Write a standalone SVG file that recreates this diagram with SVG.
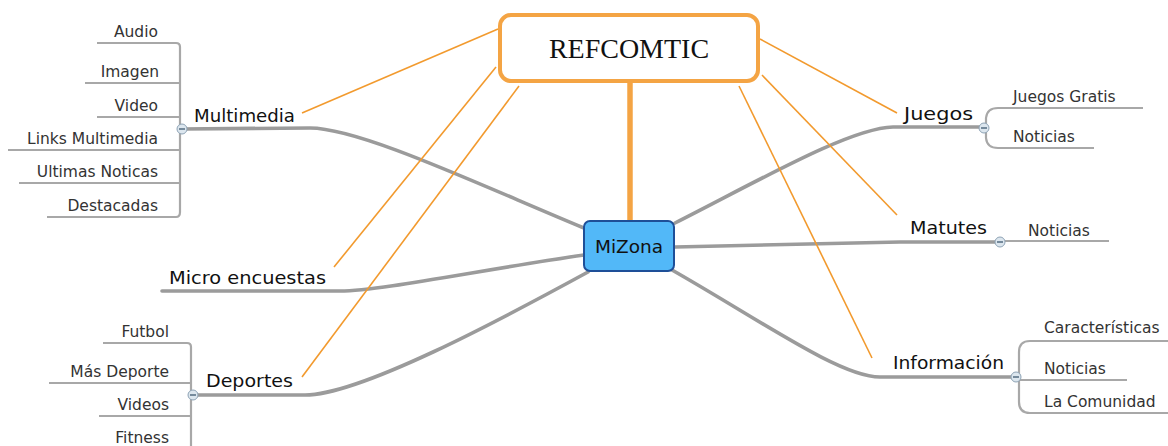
<svg xmlns="http://www.w3.org/2000/svg" width="1168" height="446" viewBox="0 0 1168 446">
<style>
.main{fill:none;stroke:#9b9b9b;stroke-width:3.6;stroke-linecap:round}
.sub{fill:none;stroke:#a8a8a8;stroke-width:2.2}
.rel{fill:none;stroke:#f29a2e;stroke-width:1.6}
.t1{font-family:"DejaVu Sans",sans-serif;font-size:18.5px;fill:#111}
.t2{font-family:"DejaVu Sans",sans-serif;font-size:15.5px;fill:#333}
.end{text-anchor:end}
.col{fill:#dce6ee;stroke:#8ea3b5;stroke-width:1}
.minus{stroke:#3d5870;stroke-width:1.3}
</style>
<rect width="1168" height="446" fill="#ffffff"/>
<g id="connectors">
  <path class="main" d="M584,228 C480,185 360,128 310,128 L182,129"/>
  <path class="main" d="M584,255 C480,270 380,291 340,291 L162,291"/>
  <path class="main" d="M588,272 C500,320 360,395 305,395 L195,395"/>
  <path class="main" d="M675,223 C760,180 850,128 893,127 L984,127"/>
  <path class="main" d="M675,247 L900,242 L1000,242"/>
  <path class="main" d="M672,270 C760,320 840,377 880,377 L1016,377"/>
  <path class="sub" d="M97,43 L176,43 Q180,43 180,47 L180,212 Q180,217 176,217 L47,217"/>
  <path class="sub" d="M85,83 L180,83"/>
  <path class="sub" d="M97,117 L180,117"/>
  <path class="sub" d="M8,150 L180,150"/>
  <path class="sub" d="M19,183 L180,183"/>
  <path class="sub" d="M103,343 L187,343 Q191,343 191,347 L191,446"/>
  <path class="sub" d="M49,383 L191,383"/>
  <path class="sub" d="M99,416 L191,416"/>
  <path class="sub" d="M1143,108 L998,108 Q987,108 986,118 L986,138 Q987,148 998,148 L1094,148"/>
  <path class="sub" d="M1005,241 L1109,241"/>
  <path class="sub" d="M1168,341 L1030,341 Q1019,341 1019,352 L1019,402 Q1019,413 1030,413 L1168,413"/>
  <path class="sub" d="M1019,380 L1127,380"/>
  <path class="rel" d="M498,29 L302,113"/>
  <path class="rel" d="M496,67 L334,267"/>
  <path class="rel" d="M519,86 L302,377"/>
  <path class="rel" d="M760,39 L897,113"/>
  <path class="rel" d="M762,75 L897,215"/>
  <path class="rel" d="M739,86 L872,358"/>
  <path d="M630,82 L630,221" fill="none" stroke="#f4a444" stroke-width="5.5"/>
</g>
<g id="refcomtic">
  <rect x="500" y="15" width="258" height="66" rx="11" fill="#ffffff" stroke="#f4a444" stroke-width="4"/>
  <text x="629" y="58" text-anchor="middle" font-family="'Liberation Serif',serif" font-size="28" fill="#111">REFCOMTIC</text>
</g>
<g id="mizona">
  <rect x="584" y="221" width="90" height="50" rx="6" fill="#52b8f8" stroke="#1e4f98" stroke-width="2"/>
  <text x="629" y="253" text-anchor="middle" font-family="'DejaVu Sans',sans-serif" font-size="18.5" fill="#111">MiZona</text>
</g>
<g id="multimedia">
  <text class="t1" x="194" y="122" textLength="101" lengthAdjust="spacingAndGlyphs">Multimedia</text>
  <circle class="col" cx="182" cy="129" r="5"/><line class="minus" x1="179" y1="129" x2="185" y2="129"/>
</g>
<g id="audio"><text class="t2 end" x="158" y="37">Audio</text></g>
<g id="imagen"><text class="t2 end" x="159" y="77">Imagen</text></g>
<g id="video"><text class="t2 end" x="158" y="111">Video</text></g>
<g id="links-multimedia"><text class="t2 end" x="158" y="144">Links Multimedia</text></g>
<g id="ultimas-noticas"><text class="t2 end" x="158" y="177">Ultimas Noticas</text></g>
<g id="destacadas"><text class="t2 end" x="158" y="211">Destacadas</text></g>
<g id="micro-encuestas"><text class="t1" x="169" y="284" textLength="157" lengthAdjust="spacingAndGlyphs">Micro encuestas</text></g>
<g id="deportes">
  <text class="t1" x="206" y="387" textLength="87" lengthAdjust="spacingAndGlyphs">Deportes</text>
  <circle class="col" cx="193" cy="395" r="5"/><line class="minus" x1="190" y1="395" x2="196" y2="395"/>
</g>
<g id="futbol"><text class="t2 end" x="169" y="337">Futbol</text></g>
<g id="mas-deporte"><text class="t2 end" x="169" y="377">Más Deporte</text></g>
<g id="videos"><text class="t2 end" x="169" y="410">Videos</text></g>
<g id="fitness"><text class="t2 end" x="169" y="443">Fitness</text></g>
<g id="juegos">
  <text class="t1" x="904" y="120" textLength="69" lengthAdjust="spacingAndGlyphs">Juegos</text>
  <circle class="col" cx="984" cy="128" r="5"/><line class="minus" x1="981" y1="128" x2="987" y2="128"/>
</g>
<g id="juegos-gratis"><text class="t2" x="1013" y="102">Juegos Gratis</text></g>
<g id="juegos-noticias"><text class="t2" x="1013" y="142">Noticias</text></g>
<g id="matutes">
  <text class="t1" x="910" y="234" textLength="77" lengthAdjust="spacingAndGlyphs">Matutes</text>
  <circle class="col" cx="1000" cy="242" r="5"/><line class="minus" x1="997" y1="242" x2="1003" y2="242"/>
</g>
<g id="matutes-noticias"><text class="t2" x="1028" y="236">Noticias</text></g>
<g id="informacion">
  <text class="t1" x="893" y="369" textLength="111" lengthAdjust="spacingAndGlyphs">Información</text>
  <circle class="col" cx="1016" cy="377" r="5"/><line class="minus" x1="1013" y1="377" x2="1019" y2="377"/>
</g>
<g id="caracteristicas"><text class="t2" x="1044" y="333">Características</text></g>
<g id="info-noticias"><text class="t2" x="1044" y="374">Noticias</text></g>
<g id="la-comunidad"><text class="t2" x="1044" y="407">La Comunidad</text></g>
</svg>
